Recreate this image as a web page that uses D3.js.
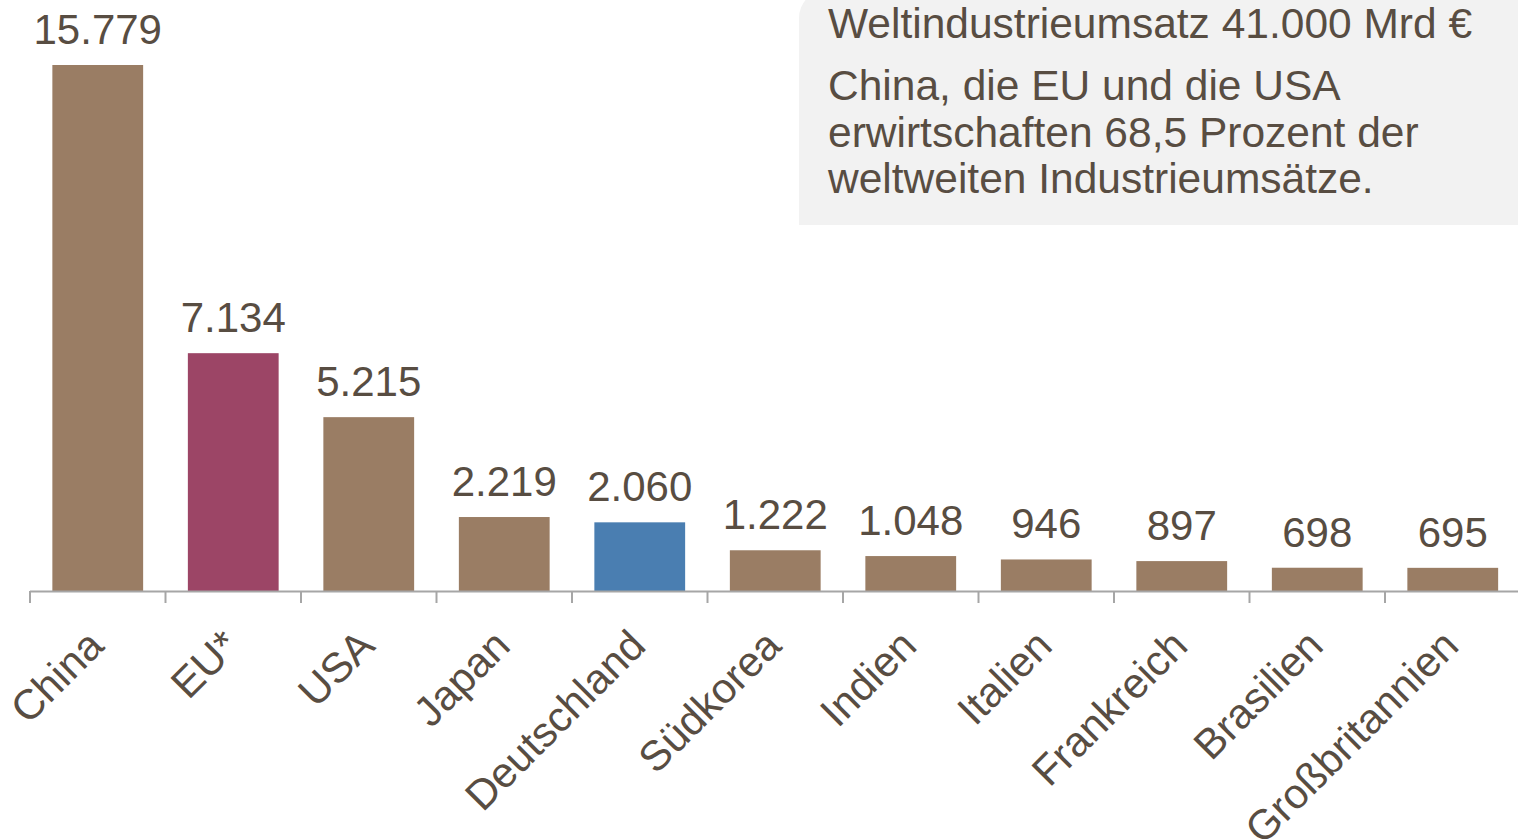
<!DOCTYPE html>
<html>
<head>
<meta charset="utf-8">
<script src="https://cdn.jsdelivr.net/npm/d3@7"></script>
<style>
  html, body { margin: 0; padding: 0; background: #fff; overflow: hidden; }
  svg { display: block; font-family: "Liberation Sans", Arial, sans-serif; }
</style>
</head>
<body>
<svg id="chart"></svg>
<script>
const countries = ['China', 'EU*', 'USA', 'Japan', 'Deutschland', 'Südkorea', 'Indien', 'Italien', 'Frankreich', 'Brasilien', 'Großbritannien'];
const umsatz = [15779, 7134, 5215, 2219, 2060, 1222, 1048, 946, 897, 698, 695];
const barColors = ['#9a7d64', '#9c4566', '#9a7d64', '#9a7d64', '#4a7eb1', '#9a7d64', '#9a7d64', '#9a7d64', '#9a7d64', '#9a7d64', '#9a7d64'];
const noteTitle = 'Weltindustrieumsatz 41.000 Mrd €';
const noteLines = ['China, die EU und die USA', 'erwirtschaften 68,5 Prozent der', 'weltweiten Industrieumsätze.'];

const width = 1518;
const height = 839;
const textColor = '#584d42';

const svg = d3.select('#chart')
  .attr('width', width)
  .attr('height', height);

const data = countries.map((c, i) => ({ land: c, wert: umsatz[i], farbe: barColors[i] }));

const x = d3.scaleBand()
  .domain(countries)
  .range([30, 30 + 135.5 * countries.length])
  .paddingInner(0.33)
  .paddingOuter(0.165);

const y = d3.scaleLinear()
  .domain([0, 15779])
  .range([591, 65]);

// annotation box (behind everything)
svg.append('path')
  .attr('d', 'M799,225 L799,18 A28,28 0 0 1 827,-10 L1520,-10 L1520,225 Z')
  .attr('fill', '#f2f2f2');

const note = svg.append('g')
  .attr('fill', textColor)
  .style('font-size', '42.5px');

note.append('text')
  .attr('x', 828)
  .attr('y', 38)
  .text(noteTitle);

note.selectAll('text.line')
  .data(noteLines)
  .join('text')
  .attr('class', 'line')
  .attr('x', 828)
  .attr('y', (d, i) => 100 + i * 46.5)
  .text(d => d);

// bars
svg.selectAll('rect.bar')
  .data(data)
  .join('rect')
  .attr('class', 'bar')
  .attr('x', d => x(d.land))
  .attr('width', x.bandwidth())
  .attr('y', d => y(d.wert))
  .attr('height', d => y(0) - y(d.wert))
  .attr('fill', d => d.farbe);

// value labels
svg.selectAll('text.wert')
  .data(data)
  .join('text')
  .attr('class', 'wert')
  .attr('x', d => x(d.land) + x.bandwidth() / 2)
  .attr('y', d => y(d.wert) - 21)
  .attr('text-anchor', 'middle')
  .attr('fill', textColor)
  .style('font-size', '42px')
  .text(d => d3.format(',')(d.wert).replace(/,/g, '.'));

// x axis: line plus ticks at band boundaries
const axis = svg.append('g').attr('stroke', '#a6a6a6').attr('stroke-width', 2);
axis.append('line')
  .attr('x1', 30).attr('x2', width)
  .attr('y1', 591.5).attr('y2', 591.5);

axis.selectAll('line.tick')
  .data(countries)
  .join('line')
  .attr('class', 'tick')
  .attr('x1', d => x(d) - x.step() * x.paddingOuter())
  .attr('x2', d => x(d) - x.step() * x.paddingOuter())
  .attr('y1', 591)
  .attr('y2', 603);

// category labels
svg.selectAll('text.land')
  .data(data)
  .join('text')
  .attr('class', 'land')
  .attr('transform', d => `translate(${x(d.land) + x.bandwidth() / 2 + 8},648) rotate(-45)`)
  .attr('text-anchor', 'end')
  .attr('fill', textColor)
  .style('font-size', '42px')
  .text(d => d.land);
</script>
</body>
</html>
